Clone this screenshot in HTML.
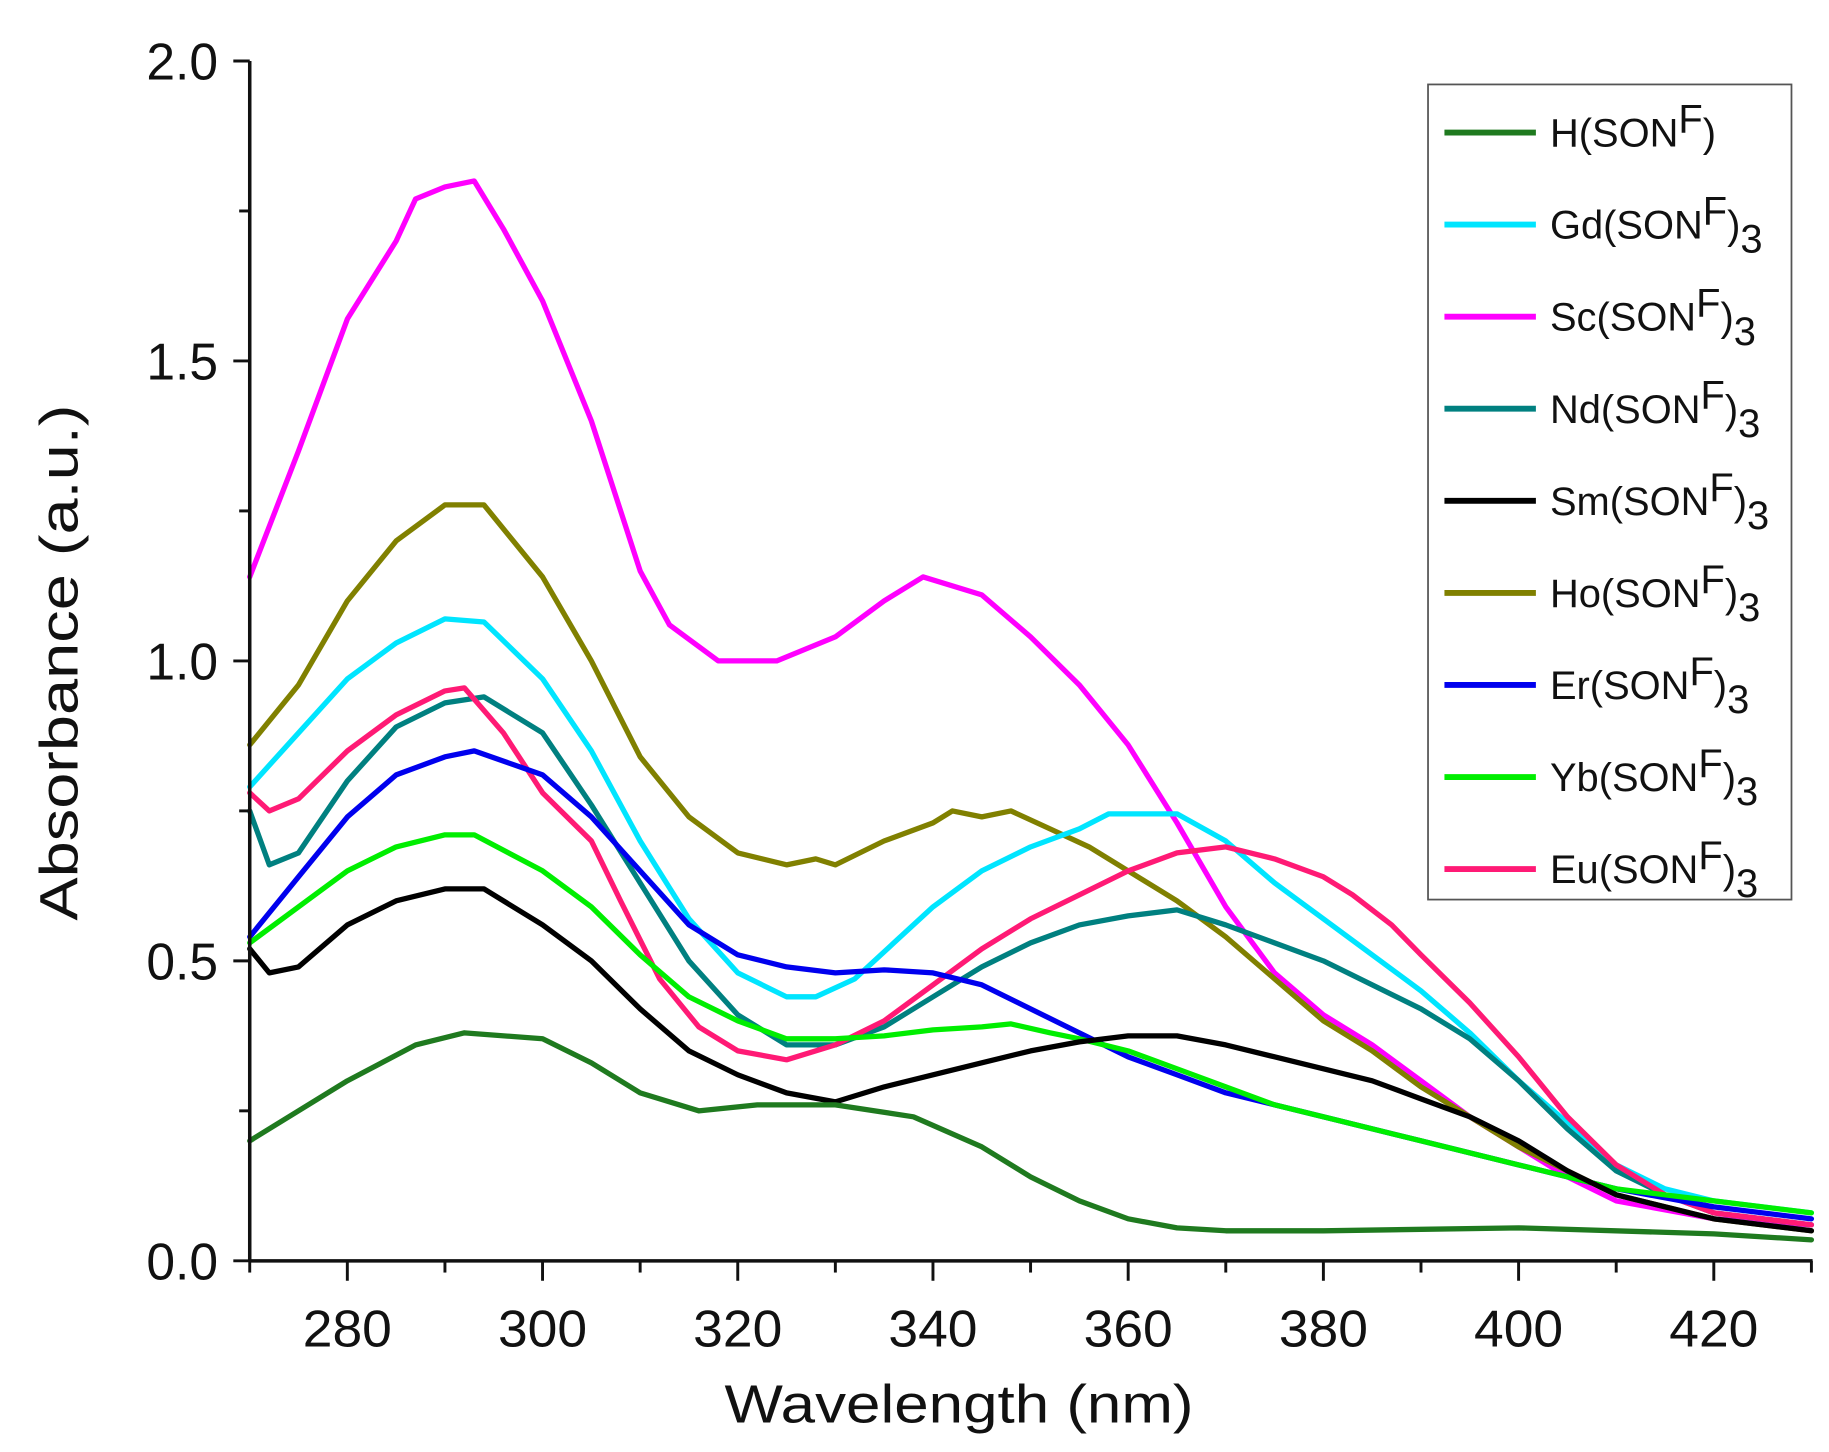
<!DOCTYPE html>
<html><head><meta charset="utf-8"><style>html,body{margin:0;padding:0;background:#fff}svg{display:block}</style></head>
<body>
<svg id="s" xmlns="http://www.w3.org/2000/svg" width="1829" height="1452" viewBox="0 0 1560 1238" preserveAspectRatio="none" font-family="Liberation Sans, Arial, sans-serif">
<rect width="1560" height="1238" fill="#fff"/>
<g id="curves" fill="none" stroke-width="4.5" stroke-linejoin="round" stroke-linecap="round"></g>
<g id="axes" stroke="#111" fill="none"></g>
<g id="labels" fill="#111"></g>
<text x="818" y="1213" font-size="46" text-anchor="middle" fill="#111" textLength="400" lengthAdjust="spacingAndGlyphs">Wavelength (nm)</text>
<text transform="translate(66,565) rotate(-90)" font-size="46" text-anchor="middle" fill="#111" textLength="440" lengthAdjust="spacingAndGlyphs">Absorbance (a.u.)</text>
<rect x="1218" y="72" width="310" height="695" fill="#fff" stroke="#555" stroke-width="1.5"/>
<g id="legend"></g>
</svg>
<script>
const NS="http://www.w3.org/2000/svg";
const X=w=>213+(w-270)*8.325, Y=a=>1075-a*511.5;
function el(t,a,p){const e=document.createElementNS(NS,t);for(const k in a)e.setAttribute(k,a[k]);p.appendChild(e);return e;}
const D={
H:["#1f7a1f","270:0.20 280:0.30 287:0.36 292:0.38 300:0.37 305:0.33 310:0.28 316:0.25 322:0.26 330:0.26 338:0.24 345:0.19 350:0.14 355:0.10 360:0.07 365:0.055 370:0.05 380:0.05 400:0.055 420:0.045 430:0.035"],
Gd:["#00e5ff","270:0.79 275:0.88 280:0.97 285:1.03 290:1.07 294:1.065 300:0.97 305:0.85 310:0.70 315:0.57 320:0.48 325:0.44 328:0.44 332:0.47 336:0.53 340:0.59 345:0.65 350:0.69 355:0.72 358:0.745 365:0.745 370:0.70 375:0.63 380:0.57 385:0.51 390:0.45 395:0.38 400:0.30 405:0.23 410:0.16 415:0.12 420:0.10 430:0.08"],
Sc:["#ff00ff","270:1.14 275:1.35 280:1.57 285:1.70 287:1.77 290:1.79 293:1.80 296:1.72 300:1.60 305:1.40 310:1.15 313:1.06 318:1.00 324:1.00 330:1.04 335:1.10 339:1.14 345:1.11 350:1.04 355:0.96 360:0.86 365:0.73 370:0.59 375:0.48 380:0.41 385:0.36 390:0.30 395:0.24 400:0.19 405:0.14 410:0.10 420:0.07 430:0.06"],
Nd:["#008080","270:0.75 272:0.66 275:0.68 280:0.80 285:0.89 290:0.93 294:0.94 300:0.88 305:0.76 310:0.63 315:0.50 320:0.41 325:0.36 330:0.36 335:0.39 340:0.44 345:0.49 350:0.53 355:0.56 360:0.575 365:0.585 370:0.56 375:0.53 380:0.50 385:0.46 390:0.42 395:0.37 400:0.30 405:0.22 410:0.15 415:0.11 420:0.08 430:0.06"],
Sm:["#000000","270:0.52 272:0.48 275:0.49 280:0.56 285:0.60 290:0.62 294:0.62 300:0.56 305:0.50 310:0.42 315:0.35 320:0.31 325:0.28 330:0.265 335:0.29 340:0.31 345:0.33 350:0.35 355:0.365 360:0.375 365:0.375 370:0.36 375:0.34 380:0.32 385:0.30 390:0.27 395:0.24 400:0.20 405:0.15 410:0.11 420:0.07 430:0.05"],
Ho:["#808000","270:0.86 275:0.96 280:1.10 285:1.20 290:1.26 294:1.26 300:1.14 305:1.00 310:0.84 315:0.74 320:0.68 325:0.66 328:0.67 330:0.66 335:0.70 340:0.73 342:0.75 345:0.74 348:0.75 352:0.72 356:0.69 360:0.65 365:0.60 370:0.54 375:0.47 380:0.40 385:0.35 390:0.29 395:0.24 400:0.19 405:0.15 410:0.11 420:0.07 430:0.05"],
Er:["#0000ee","270:0.54 275:0.64 280:0.74 285:0.81 290:0.84 293:0.85 300:0.81 305:0.74 310:0.65 315:0.56 320:0.51 325:0.49 330:0.48 335:0.485 340:0.48 345:0.46 350:0.42 355:0.38 360:0.34 365:0.31 370:0.28 375:0.26 380:0.24 390:0.20 400:0.16 410:0.12 420:0.09 430:0.07"],
Yb:["#00ee00","270:0.53 275:0.59 280:0.65 285:0.69 290:0.71 293:0.71 300:0.65 305:0.59 310:0.51 315:0.44 320:0.40 325:0.37 330:0.37 335:0.375 340:0.385 345:0.39 348:0.395 352:0.38 355:0.37 360:0.35 365:0.32 370:0.29 375:0.26 380:0.24 390:0.20 400:0.16 410:0.12 420:0.10 430:0.08"],
Eu:["#ff1a75","270:0.78 272:0.75 275:0.77 280:0.85 285:0.91 290:0.95 292:0.955 296:0.88 300:0.78 305:0.70 308:0.60 312:0.47 316:0.39 320:0.35 325:0.335 330:0.36 335:0.40 340:0.46 345:0.52 350:0.57 355:0.61 360:0.65 365:0.68 370:0.69 375:0.67 380:0.64 383:0.61 387:0.56 390:0.51 395:0.43 400:0.34 405:0.24 410:0.16 415:0.11 420:0.08 430:0.06"]};
const order=["Sc","Ho","Gd","Nd","Eu","Er","Yb","Sm","H"];
const cg=document.getElementById("curves");
for(const k of order){const pts=D[k][1].split(" ").map(s=>s.split(":").map(Number));
 el("polyline",{points:pts.map(p=>X(p[0]).toFixed(1)+","+Y(p[1]).toFixed(1)).join(" "),stroke:D[k][0]},cg);}
const ax=document.getElementById("axes"),lb=document.getElementById("labels");
el("line",{x1:213,y1:52,x2:213,y2:1076,"stroke-width":3},ax);
el("line",{x1:212,y1:1075,x2:1546,y2:1075,"stroke-width":3},ax);
for(let i=0;i<=8;i++){const a=i*0.25,y=Y(a),maj=i%2==0;
 el("line",{x1:maj?199:204,y1:y,x2:213,y2:y,"stroke-width":2.5},ax);
 if(maj){const t=el("text",{x:186,y:y+16,"font-size":44,"text-anchor":"end"},lb);t.textContent=a.toFixed(1);}}
for(let w=270;w<=430;w+=10){const x=X(w),maj=w%20==0;
 el("line",{x1:x,y1:1075,x2:x,y2:maj?1092:1085,"stroke-width":2.5},ax);
 if(maj&&w>270){const t=el("text",{x:x,y:1148,"font-size":44,"text-anchor":"middle",textLength:76,lengthAdjust:"spacingAndGlyphs"},lb);t.textContent=w;}}
const lg=document.getElementById("legend");
const L=[["H","H(SON","F",")",""],["Gd","Gd(SON","F",")","3"],["Sc","Sc(SON","F",")","3"],["Nd","Nd(SON","F",")","3"],["Sm","Sm(SON","F",")","3"],["Ho","Ho(SON","F",")","3"],["Er","Er(SON","F",")","3"],["Yb","Yb(SON","F",")","3"],["Eu","Eu(SON","F",")","3"]];
L.forEach((e,i)=>{const y=113+i*78.5;
 el("line",{x1:1232,y1:y,x2:1310,y2:y,stroke:D[e[0]][0],"stroke-width":5},lg);
 const t=el("text",{x:1322,y:y+12,"font-size":34,fill:"#111"},lg);
 t.innerHTML=e[1]+'<tspan dy="-12">'+e[2]+'</tspan><tspan dy="12">'+e[3]+'</tspan>'+(e[4]?'<tspan dy="12">'+e[4]+'</tspan>':'');});
</script>
</body></html>
